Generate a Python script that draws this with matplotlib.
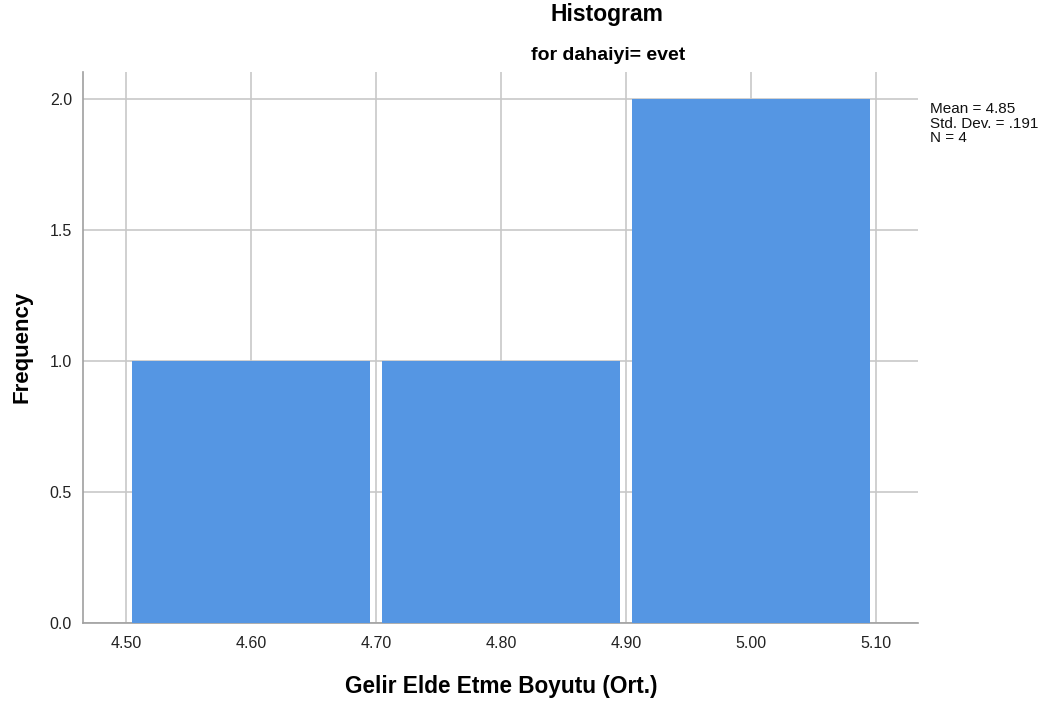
import numpy as np
import matplotlib
matplotlib.use("Agg")
import matplotlib.pyplot as plt

plt.rcParams['font.family'] = ['Liberation Sans', 'DejaVu Sans']

# data (4 cases)
values = [4.60, 4.80, 5.00, 5.00]
bin_edges = [4.5, 4.7, 4.9, 5.1]
x_ticks = [4.5, 4.6, 4.7, 4.8, 4.9, 5.0, 5.1]
y_ticks = [0.0, 0.5, 1.0, 1.5, 2.0]

bar_color = '#5596e3'
grid_color = '#c8c8c8'

fig = plt.figure(figsize=(10.51, 7.04), dpi=100)
ax = fig.add_axes([83 / 1051, 1 - 623 / 704, (918 - 83) / 1051, (623 - 72) / 704])

ax.hist(values, bins=bin_edges, rwidth=0.95, color=bar_color, zorder=3)

ax.set_xlim(4.4656, 5.1336)
ax.set_ylim(0, 2.103)
ax.set_xticks(x_ticks)
ax.set_xticklabels([f"{v:.2f}" for v in x_ticks])
ax.set_yticks(y_ticks)
ax.set_yticklabels([f"{v:.1f}" for v in y_ticks])
ax.tick_params(length=0, labelsize=11.5, colors='#222222')
ax.tick_params(axis='x', pad=9)
ax.tick_params(axis='y', pad=8)

ax.grid(True, color=grid_color, linewidth=1.2, zorder=0)
ax.set_axisbelow(True)
for side in ['top', 'right']:
    ax.spines[side].set_visible(False)
for side in ['left', 'bottom']:
    ax.spines[side].set_color('#a0a0a0')
    ax.spines[side].set_linewidth(1.2)

fig.text(501 / 1051, 1 - 686 / 704, 'Gelir Elde Etme Boyutu (Ort.)', ha='center', va='center',
         fontsize=16.3, fontweight='bold')
fig.text(22 / 1051, 1 - 347 / 704, 'Frequency', ha='center', va='center', rotation=90,
         fontsize=16, fontweight='bold')

fig.text(607 / 1051, 1 - 14 / 704, 'Histogram', ha='center', va='center',
         fontsize=16.5, fontweight='bold')
fig.text(608 / 1051, 1 - 55 / 704, 'for dahaiyi= evet', ha='center', va='center',
         fontsize=14, fontweight='bold')

mean = np.mean(values)
sd = np.std(values, ddof=1)
stats = f"Mean = {mean:.2f}\nStd. Dev. = {sd:.3f}".replace("= 0.", "= .") + f"\nN = {len(values)}"
fig.text(930 / 1051, 1 - 102 / 704, stats, ha='left', va='top', fontsize=11,
         linespacing=1.05, color='#111111')

fig.savefig('out.png', dpi=100)
